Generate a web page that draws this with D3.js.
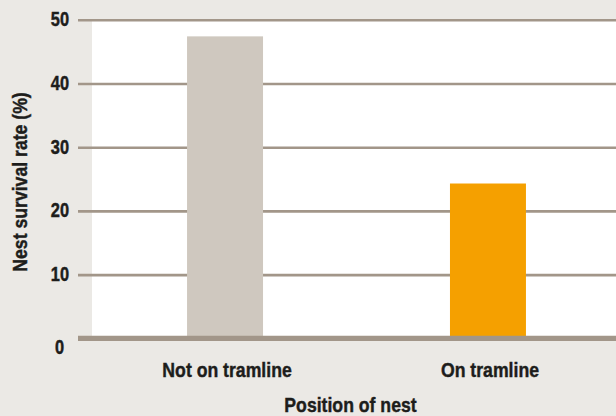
<!DOCTYPE html>
<html>
<head>
<meta charset="utf-8">
<script src="https://cdn.jsdelivr.net/npm/d3@7"></script>
<style>
  html, body { margin: 0; padding: 0; background: #ebe9e5; }
  svg { display: block; }
  text { font-family: "Liberation Sans", Arial, sans-serif; font-weight: bold; fill: #1d1d1b; stroke: #1d1d1b; stroke-width: 0.45px; }
</style>
</head>
<body>
<svg id="chart" width="616" height="416"></svg>
<script>
const categories = ["Not on tramline", "On tramline"];
const values = [47.4, 24.3];
const yTicks = [0, 10, 20, 30, 40, 50];
const barColors = ["#cfc8bf", "#f5a000"];
const xTitle = "Position of nest";
const yTitle = "Nest survival rate (%)";

const W = 616, H = 416;
const FS = 21, FT = 19.5;
const svg = d3.select("#chart");

const gridLeft = 78, plotLeft = 92, plotRight = 616;
const y = d3.scaleLinear().domain([0, 50]).range([338.3, 19.8]);
const x = d3.scaleBand().domain(categories).range([94.5, 618.5])
  .paddingInner(0.711).paddingOuter(0.352);

// condense text horizontally
function condense(sel, factor) {
  sel.each(function() {
    const n = this.getComputedTextLength();
    d3.select(this).attr("textLength", n * factor).attr("lengthAdjust", "spacingAndGlyphs");
  });
}

svg.append("rect").attr("width", W).attr("height", H).attr("fill", "#ebe9e5");
svg.append("rect")
  .attr("x", plotLeft).attr("y", y(50))
  .attr("width", plotRight - plotLeft).attr("height", y(0) - y(50))
  .attr("fill", "#ffffff");

// y axis with gridlines
const yAxis = d3.axisLeft(y).tickValues(yTicks).tickFormat(d3.format("d"))
  .tickSize(-(plotRight - gridLeft)).tickPadding(9);
const gy = svg.append("g").attr("transform", `translate(${gridLeft},0)`).call(yAxis);
gy.select(".domain").remove();
gy.selectAll(".tick line").attr("stroke", "#a29689").attr("stroke-width", 2.6);
gy.selectAll(".tick text").attr("font-size", FT).attr("fill", "#1d1d1b")
  .attr("font-family", null).attr("dy", "0.3em");
gy.selectAll(".tick").filter(d => d === 0).select("line").remove();
gy.selectAll(".tick").filter(d => d === 0).select("text")
  .attr("x", -14).attr("dy", "0.76em");
condense(gy.selectAll(".tick text"), 0.84);

// bars
svg.append("g").selectAll("rect").data(categories).join("rect")
  .attr("x", d => x(d)).attr("width", x.bandwidth())
  .attr("y", (d, i) => y(values[i]))
  .attr("height", (d, i) => y(0) - y(values[i]))
  .attr("fill", (d, i) => barColors[i]);

// zero baseline
svg.append("line")
  .attr("x1", gridLeft).attr("x2", plotRight)
  .attr("y1", y(0)).attr("y2", y(0))
  .attr("stroke", "#a29689").attr("stroke-width", 5.2);

// x axis labels
const xAxis = d3.axisBottom(x).tickSize(0).tickPadding(0);
const gx = svg.append("g").attr("transform", `translate(2,377)`).call(xAxis);
gx.select(".domain").remove();
gx.selectAll(".tick text").attr("font-size", FS).attr("fill", "#1d1d1b")
  .attr("font-family", null).attr("dy", 0).attr("y", 0);
condense(gx.selectAll(".tick text"), 0.84);

// titles
const xt = svg.append("text").attr("x", 350.5).attr("y", 411.5).attr("text-anchor", "middle")
  .attr("font-size", FS).text(xTitle);
condense(xt, 0.84);
const yt = svg.append("text").attr("transform", "translate(26.5,182) rotate(-90)")
  .attr("text-anchor", "middle").attr("font-size", FS).text(yTitle);
condense(yt, 0.84);
</script>
</body>
</html>
